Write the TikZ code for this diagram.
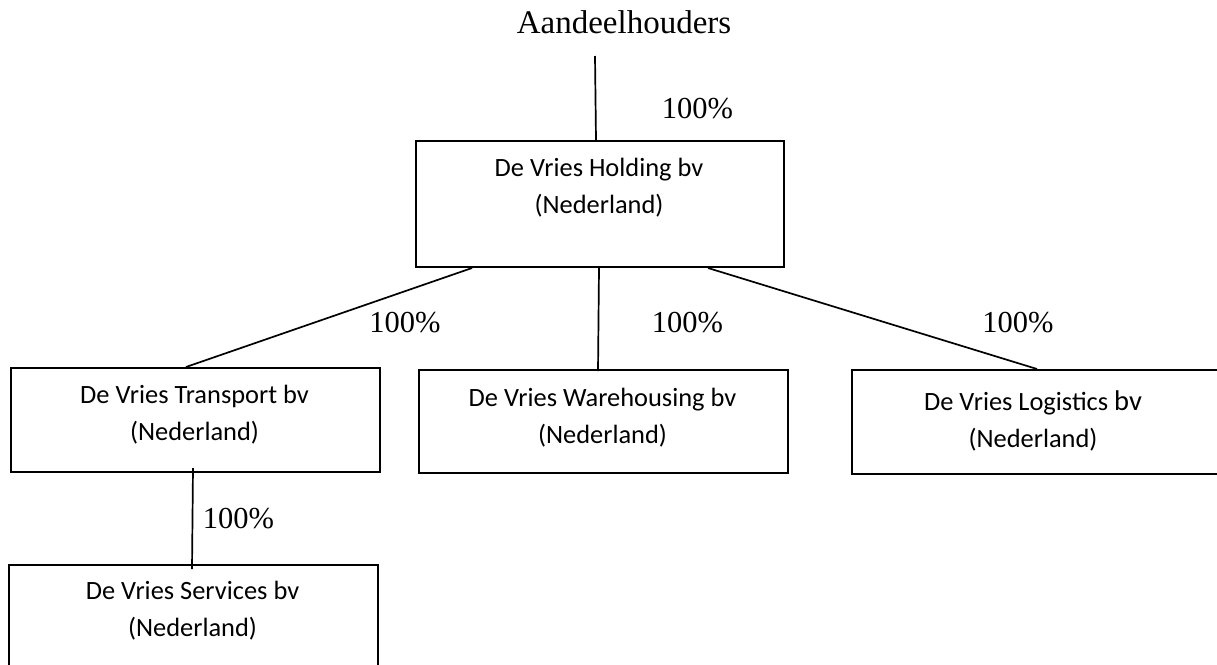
\documentclass[tikz,border=0pt]{standalone}
\usepackage{fontspec}
\setmainfont{Liberation Serif}
\newfontfamily\boxfont{Carlito}
\begin{document}
\begin{tikzpicture}[x=1pt,y=-1pt,
  cbox/.style={draw, line width=2pt, inner sep=0pt, anchor=north west},
  btext/.style={font=\boxfont\fontsize{26.4}{37}\selectfont, align=center, anchor=base, inner sep=0pt},
  pct/.style={font=\fontsize{30.5}{36}\selectfont, anchor=base, inner sep=0pt},
  conn/.style={line width=1.7pt}]
\fill[white] (0,0) rectangle (1217,664);
\clip (0,0) rectangle (1217,664);

% title
\node[font=\fontsize{33}{40}\selectfont, anchor=base, inner sep=0pt] (aand) at (624,33) {Aandeelhouders};
\coordinate (topend) at (595,56);

% boxes
\node[cbox, minimum width=368pt, minimum height=126pt] (hold) at (415,140) {};
\node[cbox, minimum width=369pt, minimum height=104pt] (trans) at (10,367) {};
\node[cbox, minimum width=369pt, minimum height=103pt] (ware) at (418,369) {};
\node[cbox, minimum width=369pt, minimum height=104pt] (logi) at (851,369) {};
\node[cbox, minimum width=369pt, minimum height=140pt] (serv) at (8,564) {};

% box texts (anchor = baseline of the last line)
\node[btext] (holdt) at (599,213) {De Vries Holding bv\\(Nederland)};
\node[btext] (transt) at (194.5,440) {De Vries Transport bv\\(Nederland)};
\node[btext] (waret) at (602.5,443) {De Vries Warehousing bv\\(Nederland)};
\node[btext] (logit) at (1033,447) {De Vries Logistics {\fontsize{28.5}{37}\selectfont bv}\\(Nederland)};
\node[btext] (servt) at (192.5,636) {De Vries Services bv\\(Nederland)};

% connectors
\draw[conn] (topend) -- ([xshift=-4pt]hold.north);
\draw[conn] ([xshift=57pt]hold.south west) -- ([xshift=176pt]trans.north west);
\draw[conn] ([xshift=184pt]hold.south west) -- ([xshift=180pt,yshift=-2pt]ware.north west);
\draw[conn] ([xshift=293pt]hold.south west) -- ([xshift=186pt]logi.north west);
\draw[conn] ([xshift=183pt,yshift=5pt]trans.south west) -- ([xshift=184pt,yshift=-5pt]serv.north west);

% percentages
\node[pct] (p0) at (697.5,118) {100\%};
\node[pct] (p1) at (405,332) {100\%};
\node[pct] (p2) at (687.5,332) {100\%};
\node[pct] (p3) at (1018,332) {100\%};
\node[pct] (p4) at (238.5,528) {100\%};
\end{tikzpicture}
\end{document}
